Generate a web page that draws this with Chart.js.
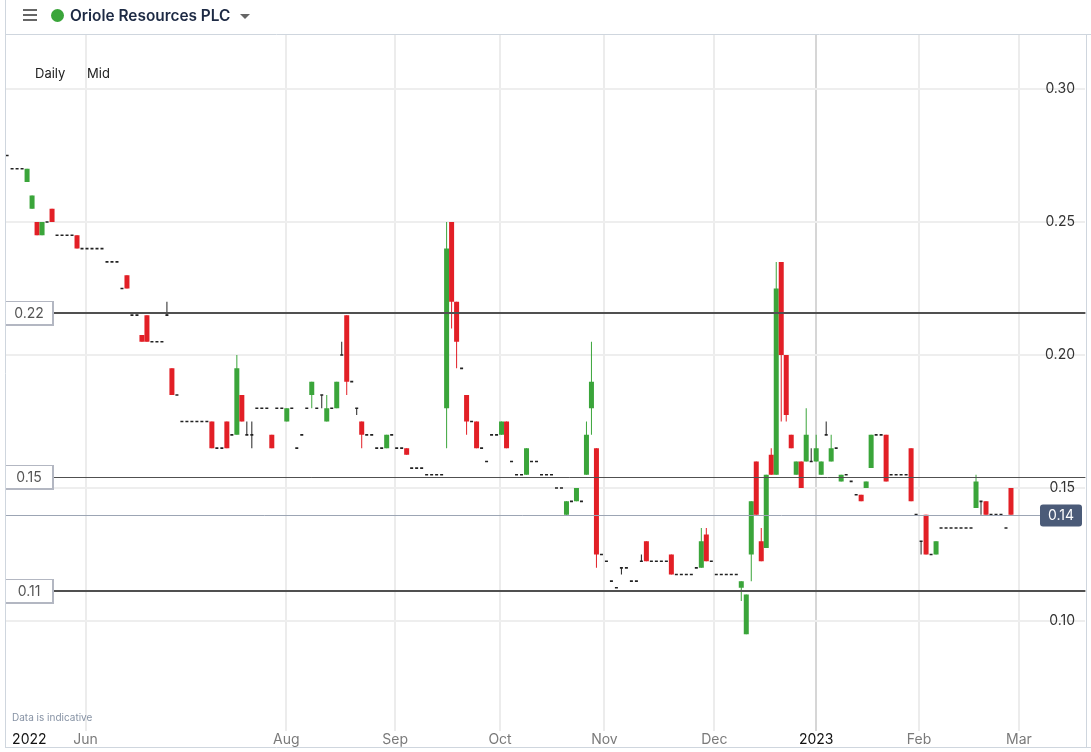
<!DOCTYPE html>
<html>
<head>
<meta charset="utf-8">
<script src="https://cdn.jsdelivr.net/npm/chart.js@4.4.0/dist/chart.umd.min.js"></script>
<style>
  html, body { margin: 0; padding: 0; background: #fff; }
  body { width: 1091px; height: 752px; position: relative; overflow: hidden; font-family: Inter, Roboto, sans-serif; }
  #chart { position: absolute; left: 0; top: 0; }
  .burger { position: absolute; left: 23px; top: 9px; width: 14px; }
  .burger span { display: block; height: 1.5px; background: #666; margin-bottom: 3.5px; }
  .dot { position: absolute; left: 51px; top: 9px; width: 13px; height: 13px; border-radius: 50%; background: #3aa53a; }
  .title { position: absolute; left: 70px; top: 6px; font-size: 15.4px; font-weight: 600; color: #1d2a44; }
  .caret { position: absolute; left: 240px; top: 14px; width: 0; height: 0; border-left: 5px solid transparent; border-right: 5px solid transparent; border-top: 5px solid #666; }
  .period { position: absolute; top: 65px; font-size: 13px; color: #222; }
  .note { position: absolute; left: 12px; top: 711px; font-size: 10px; color: #8793a5; }
</style>
</head>
<body>
<canvas id="chart" width="1091" height="752"></canvas>
<div class="burger"><span></span><span></span><span></span></div>
<div class="dot"></div>
<div class="title">Oriole Resources PLC</div>
<div class="caret"></div>
<div class="period" style="left:35px">Daily</div>
<div class="period" style="left:87px">Mid</div>
<div class="note">Data is indicative</div>
<script>
// Daily mid prices, one entry per trading day (May 2022 - Feb 2023)
const opens = [
  0.275,0.27,0.27,0.27,0.265,0.255,0.25,0.245,0.25,0.255,
  0.245,0.245,0.245,0.245,0.245,0.24,0.24,0.24,0.24,0.24,
  0.235,0.235,0.235,0.225,0.23,0.215,0.215,0.2075,0.215,0.205,
  0.205,0.205,0.215,0.195,0.185,0.175,0.175,0.175,0.175,0.175,
  0.175,0.175,0.165,0.165,0.175,0.17,0.17,0.185,0.17,0.17,
  0.18,0.18,0.18,0.17,0.18,0.18,0.175,0.18,0.165,0.17,
  0.18,0.185,0.18,0.185,0.175,0.18,0.18,0.20,0.215,0.19,
  0.18,0.175,0.17,0.17,0.165,0.165,0.165,0.17,0.165,0.165,
  0.165,0.1575,0.1575,0.1575,0.155,0.155,0.155,0.155,0.18,0.25,
  0.22,0.195,0.185,0.175,0.175,0.165,0.16,0.17,0.17,0.17,
  0.175,0.16,0.155,0.155,0.155,0.16,0.16,0.155,0.155,0.155,
  0.15,0.15,0.14,0.145,0.145,0.145,0.155,0.18,0.165,0.125,
  0.1225,0.115,0.1125,0.12,0.12,0.115,0.115,0.1225,0.13,0.1225,
  0.1225,0.1225,0.1225,0.125,0.1175,0.1175,0.1175,0.1175,0.12,0.12,
  0.1325,0.1225,0.1175,0.1175,0.1175,0.1175,0.1175,0.1125,0.095,0.125,
  0.16,0.13,0.1275,0.1625,0.155,0.235,0.20,0.17,0.155,0.16,
  0.16,0.16,0.16,0.155,0.17,0.16,0.165,0.1525,0.155,0.1525,
  0.1475,0.1475,0.15,0.1575,0.17,0.17,0.17,0.155,0.155,0.155,
  0.155,0.165,0.14,0.13,0.14,0.125,0.125,0.135,0.135,0.135,
  0.135,0.135,0.135,0.135,0.1425,0.145,0.145,0.14,0.14,0.14,
  0.135,0.15
]
const highs = [
  0.275,0.27,0.27,0.27,0.27,0.26,0.25,0.25,0.25,0.255,
  0.245,0.245,0.245,0.245,0.245,0.24,0.24,0.24,0.24,0.24,
  0.235,0.235,0.235,0.225,0.23,0.215,0.215,0.2075,0.215,0.205,
  0.205,0.205,0.22,0.195,0.185,0.175,0.175,0.175,0.175,0.175,
  0.175,0.175,0.165,0.165,0.175,0.17,0.20,0.185,0.175,0.175,
  0.18,0.18,0.18,0.17,0.18,0.18,0.18,0.18,0.165,0.17,
  0.18,0.19,0.18,0.185,0.185,0.18,0.19,0.205,0.215,0.19,
  0.18,0.175,0.17,0.17,0.165,0.165,0.17,0.17,0.165,0.165,
  0.165,0.1575,0.1575,0.1575,0.155,0.155,0.155,0.155,0.25,0.25,
  0.22,0.195,0.185,0.175,0.175,0.165,0.16,0.17,0.17,0.175,
  0.175,0.16,0.155,0.155,0.165,0.16,0.16,0.155,0.155,0.155,
  0.15,0.15,0.145,0.145,0.15,0.145,0.175,0.205,0.165,0.125,
  0.1225,0.115,0.1125,0.12,0.12,0.115,0.115,0.125,0.13,0.1225,
  0.1225,0.1225,0.1225,0.125,0.1175,0.1175,0.1175,0.1175,0.12,0.135,
  0.135,0.1225,0.1175,0.1175,0.1175,0.1175,0.1175,0.115,0.11,0.145,
  0.16,0.135,0.155,0.165,0.235,0.235,0.20,0.17,0.16,0.16,
  0.18,0.165,0.17,0.16,0.175,0.17,0.165,0.155,0.155,0.1525,
  0.1475,0.1475,0.1525,0.17,0.17,0.17,0.17,0.155,0.155,0.155,
  0.155,0.165,0.14,0.13,0.14,0.125,0.13,0.135,0.135,0.135,
  0.135,0.135,0.135,0.135,0.155,0.145,0.145,0.14,0.14,0.14,
  0.135,0.15
]
const lows = [
  0.275,0.27,0.27,0.27,0.265,0.255,0.245,0.245,0.25,0.25,
  0.245,0.245,0.245,0.245,0.24,0.24,0.24,0.24,0.24,0.24,
  0.235,0.235,0.235,0.225,0.225,0.215,0.215,0.205,0.205,0.205,
  0.205,0.205,0.215,0.185,0.185,0.175,0.175,0.175,0.175,0.175,
  0.175,0.165,0.165,0.165,0.165,0.17,0.17,0.175,0.17,0.165,
  0.18,0.18,0.18,0.165,0.18,0.18,0.175,0.18,0.165,0.17,
  0.18,0.18,0.18,0.18,0.175,0.18,0.18,0.20,0.185,0.19,
  0.1775,0.165,0.17,0.17,0.165,0.165,0.165,0.17,0.165,0.165,
  0.1625,0.1575,0.1575,0.1575,0.155,0.155,0.155,0.155,0.165,0.21,
  0.195,0.195,0.17,0.175,0.165,0.165,0.16,0.17,0.17,0.17,
  0.165,0.16,0.155,0.155,0.155,0.16,0.16,0.155,0.155,0.155,
  0.15,0.15,0.14,0.145,0.145,0.145,0.155,0.17,0.12,0.125,
  0.1225,0.115,0.1125,0.1175,0.12,0.115,0.115,0.1225,0.1225,0.1225,
  0.1225,0.1225,0.1225,0.1175,0.1175,0.1175,0.1175,0.1175,0.12,0.12,
  0.1225,0.1225,0.1175,0.1175,0.1175,0.1175,0.1175,0.1075,0.095,0.115,
  0.14,0.1225,0.1275,0.155,0.155,0.175,0.175,0.165,0.155,0.15,
  0.16,0.16,0.16,0.155,0.17,0.16,0.165,0.1525,0.155,0.1525,
  0.1475,0.145,0.15,0.1575,0.17,0.17,0.1525,0.155,0.155,0.155,
  0.155,0.145,0.14,0.125,0.125,0.125,0.125,0.135,0.135,0.135,
  0.135,0.135,0.135,0.135,0.1425,0.14,0.14,0.14,0.14,0.14,
  0.135,0.14
]
const closes = [
  0.275,0.27,0.27,0.27,0.27,0.26,0.245,0.25,0.25,0.25,
  0.245,0.245,0.245,0.245,0.24,0.24,0.24,0.24,0.24,0.24,
  0.235,0.235,0.235,0.225,0.225,0.215,0.215,0.205,0.205,0.205,
  0.205,0.205,0.215,0.185,0.185,0.175,0.175,0.175,0.175,0.175,
  0.175,0.165,0.165,0.165,0.165,0.17,0.195,0.175,0.17,0.17,
  0.18,0.18,0.18,0.165,0.18,0.18,0.18,0.18,0.165,0.17,
  0.18,0.19,0.18,0.185,0.18,0.18,0.19,0.20,0.19,0.19,
  0.18,0.17,0.17,0.17,0.165,0.165,0.17,0.17,0.165,0.165,
  0.1625,0.1575,0.1575,0.1575,0.155,0.155,0.155,0.155,0.24,0.22,
  0.205,0.195,0.175,0.175,0.165,0.165,0.16,0.17,0.17,0.175,
  0.165,0.16,0.155,0.155,0.165,0.16,0.16,0.155,0.155,0.155,
  0.15,0.15,0.145,0.145,0.15,0.145,0.17,0.19,0.125,0.125,
  0.1225,0.115,0.1125,0.12,0.12,0.115,0.115,0.1225,0.1225,0.1225,
  0.1225,0.1225,0.1225,0.1175,0.1175,0.1175,0.1175,0.1175,0.12,0.13,
  0.1225,0.1225,0.1175,0.1175,0.1175,0.1175,0.1175,0.115,0.11,0.145,
  0.14,0.1225,0.155,0.155,0.225,0.20,0.1775,0.165,0.16,0.15,
  0.17,0.16,0.165,0.16,0.17,0.165,0.165,0.155,0.155,0.1525,
  0.1475,0.145,0.1525,0.17,0.17,0.17,0.1525,0.155,0.155,0.155,
  0.155,0.145,0.14,0.13,0.125,0.125,0.13,0.135,0.135,0.135,
  0.135,0.135,0.135,0.135,0.1525,0.145,0.14,0.14,0.14,0.14,
  0.135,0.14
]

// x axis: month marks sit on trading-day index positions
const xTickPos = [4.45, 15.7, 55.9, 77.7, 98.7, 119.6, 141.6, 162.0, 182.6, 202.6]
const xTickLabels = ['2022', 'Jun', 'Aug', 'Sep', 'Oct', 'Nov', 'Dec', '2023', 'Feb', 'Mar']
const yTicks = [0.10, 0.15, 0.20, 0.25, 0.30]

// horizontal levels drawn on the chart
const levelValues = [0.2158, 0.1541, 0.1113]
const levelLabels = ['0.22', '0.15', '0.11']

const GREEN = '#3aa53a'
const RED = '#e21f26'
const FLAT = '#222'
const LEVEL_WIDTH = [2, 1, 2]

const idx = closes.map((_, i) => i)
const colorOf = i => closes[i] > opens[i] ? GREEN : (closes[i] < opens[i] ? RED : FLAT)
const moving = idx.filter(i => opens[i] !== closes[i])
const flat = idx.filter(i => opens[i] === closes[i])
const lastPrice = closes[closes.length - 1]

const overlay = {
  id: 'overlay',
  afterDatasetsDraw(chart) {
    const { ctx, chartArea: a, scales: { y } } = chart
    ctx.save()
    ctx.font = '14px Inter, Roboto, sans-serif'
    ctx.textBaseline = 'middle'

    // support / resistance levels with boxed labels on the left
    levelValues.forEach((v, k) => {
      const py = Math.round(y.getPixelForValue(v))
      ctx.strokeStyle = '#505050'
      ctx.lineWidth = LEVEL_WIDTH[k]
      const off = LEVEL_WIDTH[k] % 2 ? 0.5 : 0
      ctx.beginPath()
      ctx.moveTo(53, py + off)
      ctx.lineTo(a.right, py + off)
      ctx.stroke()

      ctx.fillStyle = '#b3b7c2'
      ctx.fillRect(5, py - 12, 49, 25)
      ctx.fillStyle = '#fff'
      ctx.fillRect(6, py - 11, 46, 22)
      ctx.fillStyle = '#555'
      ctx.textAlign = 'center'
      ctx.fillText(levelLabels[k], 29, py + 0.5)
    })

    // last price line and tag
    const lp = Math.round(y.getPixelForValue(lastPrice)) + 0.5
    ctx.strokeStyle = '#9ca5b4'
    ctx.lineWidth = 1
    ctx.beginPath()
    ctx.moveTo(a.left, lp)
    ctx.lineTo(1040, lp)
    ctx.stroke()
    ctx.fillStyle = '#4b5b78'
    ctx.beginPath()
    ctx.roundRect(1040, lp - 11, 42, 22, 3)
    ctx.fill()
    ctx.fillStyle = '#fff'
    ctx.textAlign = 'center'
    ctx.fillText(lastPrice.toFixed(2), 1061, lp + 0.5)

    // price labels on the right
    ctx.fillStyle = '#333'
    ctx.textAlign = 'right'
    y.ticks.forEach(t => {
      ctx.fillText(t.value.toFixed(2), 1075, y.getPixelForValue(t.value))
    })

    // frame
    ctx.strokeStyle = '#cfd6de'
    ctx.beginPath()
    ctx.moveTo(5.5, 0); ctx.lineTo(5.5, 747)
    ctx.moveTo(1086.5, 35); ctx.lineTo(1086.5, 747)
    ctx.moveTo(5, 747.5); ctx.lineTo(1091, 747.5)
    ctx.moveTo(5, 34.5); ctx.lineTo(1091, 34.5)
    ctx.stroke()
    ctx.restore()
  }
}

new Chart(document.getElementById('chart'), {
  type: 'bar',
  data: {
    datasets: [
      {
        label: 'wick',
        data: idx.map(i => ({ x: i, y: [lows[i], highs[i]] })),
        backgroundColor: idx.map(colorOf),
        barThickness: 1,
        grouped: false,
        inflateAmount: 0,
        order: 2
      },
      {
        label: 'body',
        data: moving.map(i => ({ x: i, y: [opens[i], closes[i]] })),
        backgroundColor: moving.map(colorOf),
        barThickness: 5,
        grouped: false,
        inflateAmount: 0,
        order: 1
      },
      {
        type: 'scatter',
        label: 'flat',
        data: flat.map(i => ({ x: i, y: closes[i] })),
        pointStyle: 'line',
        pointRadius: 1.5,
        borderColor: FLAT,
        borderWidth: 1.6,
        order: 0
      }
    ]
  },
  options: {
    responsive: false,
    animation: false,
    events: [],
    layout: { padding: { top: 35, left: 5, right: 5, bottom: 4 } },
    plugins: { legend: { display: false }, tooltip: { enabled: false } },
    scales: {
      x: {
        type: 'linear',
        min: -0.3,
        max: 215.9,
        offset: false,
        afterBuildTicks: axis => { axis.ticks = xTickPos.map(v => ({ value: v })) },
        grid: {
          offset: false,
          drawTicks: false,
          lineWidth: 2,
          color: c => {
            const k = xTickPos.indexOf(c.tick && c.tick.value)
            if (xTickLabels[k] === '2022') return 'rgba(0,0,0,0)'
            return xTickLabels[k] === '2023' ? '#d6d6d6' : '#ececec'
          }
        },
        border: { display: false },
        ticks: {
          autoSkip: false,
          maxRotation: 0,
          padding: 0,
          font: { family: 'Inter, Roboto, sans-serif', size: 14 },
          color: c => /^\d{4}$/.test(xTickLabels[xTickPos.indexOf(c.tick.value)]) ? '#111' : '#7a7a7a',
          callback: v => xTickLabels[xTickPos.indexOf(v)]
        }
      },
      y: {
        type: 'linear',
        position: 'right',
        min: 0.0586,
        max: 0.3203,
        afterBuildTicks: axis => { axis.ticks = yTicks.map(v => ({ value: v })) },
        grid: { drawTicks: false, lineWidth: 2, color: '#eeeeee' },
        border: { display: false },
        ticks: { display: false }
      }
    }
  },
  plugins: [overlay]
})
</script>
</body>
</html>
